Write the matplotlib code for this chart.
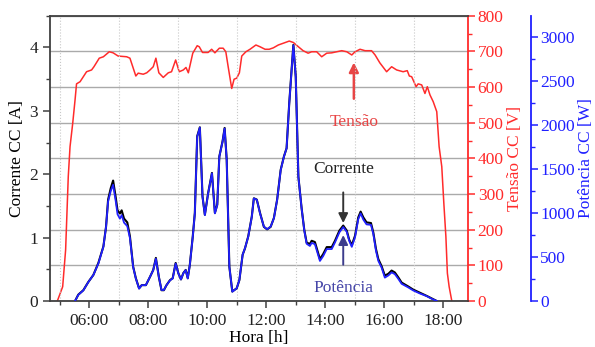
import matplotlib
matplotlib.use('Agg')
import matplotlib.pyplot as plt
from matplotlib.ticker import MultipleLocator, FuncFormatter

# Horário das leituras de corrente e potência (h)
hora_iv = [5.52, 5.63, 5.80, 5.97, 6.14, 6.31, 6.48, 6.57, 6.64, 6.73,
           6.81, 6.90, 6.96, 7.04, 7.10, 7.18, 7.29, 7.38, 7.49, 7.58,
           7.69, 7.78, 7.92, 8.06, 8.17, 8.26, 8.36, 8.45, 8.53, 8.62,
           8.74, 8.83, 8.93, 9.02, 9.11, 9.19, 9.27, 9.34, 9.41, 9.51,
           9.58, 9.66, 9.75, 9.84, 9.92, 10.03, 10.16, 10.26, 10.34, 10.41,
           10.52, 10.59, 10.66, 10.75, 10.85, 11.00, 11.09, 11.20, 11.28, 11.39,
           11.51, 11.58, 11.68, 11.79, 11.92, 12.03, 12.15, 12.26, 12.37, 12.49,
           12.60, 12.69, 12.78, 12.86, 12.92, 13.00, 13.09, 13.20, 13.29, 13.37,
           13.48, 13.54, 13.65, 13.82, 13.93, 14.05, 14.22, 14.33, 14.48, 14.61,
           14.73, 14.81, 14.90, 15.01, 15.12, 15.20, 15.29, 15.40, 15.55, 15.63,
           15.72, 15.80, 15.91, 16.02, 16.14, 16.25, 16.36, 16.48, 16.59, 16.70,
           16.81, 16.98, 17.21, 17.44, 17.61, 17.78]

# Corrente CC (A)
corrente = [0.00, 0.10, 0.17, 0.30, 0.41, 0.60, 0.86, 1.17, 1.60, 1.78,
            1.90, 1.63, 1.43, 1.38, 1.43, 1.30, 1.24, 1.02, 0.54, 0.36,
            0.20, 0.25, 0.25, 0.38, 0.49, 0.68, 0.38, 0.17, 0.17, 0.25,
            0.33, 0.36, 0.60, 0.44, 0.34, 0.44, 0.49, 0.36, 0.57, 1.02,
            1.39, 2.60, 2.74, 1.65, 1.36, 1.70, 2.02, 1.39, 1.52, 2.28,
            2.52, 2.73, 2.23, 0.54, 0.15, 0.20, 0.33, 0.73, 0.83, 1.02,
            1.33, 1.62, 1.60, 1.39, 1.17, 1.13, 1.17, 1.31, 1.60, 2.07,
            2.28, 2.41, 3.12, 3.65, 4.04, 3.54, 1.96, 1.46, 1.12, 0.92,
            0.90, 0.95, 0.93, 0.66, 0.74, 0.85, 0.85, 0.95, 1.11, 1.19,
            1.11, 0.97, 0.88, 1.03, 1.32, 1.41, 1.32, 1.24, 1.23, 1.08,
            0.82, 0.66, 0.55, 0.40, 0.43, 0.48, 0.45, 0.37, 0.29, 0.26,
            0.23, 0.18, 0.13, 0.08, 0.04, 0.00]

# Potência CC (W)
potencia = [0, 70, 120, 215, 295, 425, 615, 840, 1130, 1250,
            1320, 1130, 985, 935, 975, 890, 850, 715, 385, 255,
            140, 180, 180, 275, 350, 480, 275, 125, 125, 180,
            235, 255, 425, 315, 245, 315, 350, 255, 410, 730,
            995, 1865, 1970, 1185, 975, 1220, 1450, 995, 1090, 1640,
            1810, 1960, 1600, 390, 105, 145, 240, 525, 600, 730,
            955, 1165, 1150, 995, 845, 815, 845, 940, 1150, 1485,
            1640, 1735, 2245, 2620, 2905, 2545, 1410, 1050, 800, 650,
            625, 660, 645, 455, 510, 590, 590, 665, 780, 840,
            785, 685, 615, 725, 930, 995, 925, 870, 865, 760,
            570, 455, 380, 265, 290, 325, 305, 250, 195, 175,
            155, 120, 85, 55, 25, 0]

# Tensão CC (V)
hora_v = [4.92, 5.10, 5.20, 5.29, 5.35, 5.44, 5.52, 5.57, 5.69, 5.91,
          6.08, 6.16, 6.34, 6.48, 6.68, 6.81, 6.98, 7.27, 7.38, 7.58,
          7.66, 7.83, 7.95, 8.06, 8.17, 8.26, 8.36, 8.51, 8.68, 8.79,
          8.93, 9.05, 9.19, 9.28, 9.36, 9.51, 9.66, 9.73, 9.84, 10.03,
          10.15, 10.26, 10.41, 10.54, 10.63, 10.71, 10.83, 10.91, 11.00, 11.09,
          11.17, 11.31, 11.45, 11.65, 11.79, 11.96, 12.10, 12.24, 12.41, 12.58,
          12.78, 12.92, 13.09, 13.25, 13.42, 13.54, 13.71, 13.88, 14.05, 14.22,
          14.39, 14.56, 14.73, 14.90, 15.01, 15.18, 15.35, 15.57, 15.69, 15.85,
          16.08, 16.25, 16.42, 16.64, 16.78, 16.85, 16.93, 17.08, 17.15, 17.27,
          17.38, 17.46, 17.55, 17.66, 17.78, 17.86, 17.95, 18.02, 18.09, 18.14,
          18.20, 18.29]
tensao = [0, 40, 143, 349, 433, 498, 564, 609, 615, 643,
          648, 657, 681, 685, 699, 696, 687, 685, 681, 631,
          639, 636, 640, 648, 657, 681, 640, 627, 640, 643,
          676, 643, 648, 655, 640, 695, 716, 713, 697, 697,
          706, 696, 709, 709, 699, 657, 596, 622, 625, 640,
          687, 699, 706, 718, 713, 706, 706, 710, 718, 723,
          729, 725, 713, 702, 695, 699, 699, 685, 695, 696,
          699, 702, 699, 690, 699, 706, 702, 702, 690, 668,
          643, 657, 648, 643, 646, 631, 629, 601, 609, 606,
          582, 601, 578, 559, 531, 433, 377, 274, 180, 78,
          40, 0]

horas_rotulo = [6, 8, 10, 12, 14, 16, 18]

vermelho = '#ff2b2b'
azul = '#2020ff'

plt.rcParams['font.family'] = 'Liberation Serif'
plt.rcParams['font.size'] = 12.5

fig = plt.figure(figsize=(5.95, 3.47), dpi=100)
ax = fig.add_axes([0.084, 0.1326, 0.7026, 0.822])
ax2 = ax.twinx()
ax3 = ax.twinx()
ax3.spines['right'].set_position(('outward', 45))

# grade da tensão fica por baixo das curvas de corrente e potência
ax2.set_zorder(1)
ax.set_zorder(2)
ax3.set_zorder(3)
ax.patch.set_visible(False)

for a in (ax2, ax3):
    for s in ('left', 'top', 'bottom'):
        a.spines[s].set_visible(False)
ax.spines['right'].set_visible(False)
for s in ('left', 'top', 'bottom'):
    ax.spines[s].set_color('#404040')
    ax.spines[s].set_linewidth(1.3)
ax2.spines['right'].set_color(vermelho)
ax2.spines['right'].set_linewidth(1.3)
ax3.spines['right'].set_color(azul)
ax3.spines['right'].set_linewidth(1.3)

ax2.plot(hora_v, tensao, color=vermelho, lw=1.1)
ax.plot(hora_iv, corrente, color='black', lw=1.5)
ax3.plot(hora_iv, potencia, color=azul, lw=1.3)

ax.set_xlim(4.67, 18.84)
ax.set_ylim(0, 4.5)
ax2.set_ylim(0, 800)
ax3.set_ylim(0, 3240)

ax.set_xticks(horas_rotulo)
ax.xaxis.set_minor_locator(MultipleLocator(1))
ax.xaxis.set_major_formatter(FuncFormatter(lambda h, p: '%02d:00' % h))
ax.yaxis.set_major_locator(MultipleLocator(1))
ax.yaxis.set_minor_locator(MultipleLocator(0.5))
ax2.yaxis.set_major_locator(MultipleLocator(100))
ax2.yaxis.set_minor_locator(MultipleLocator(50))
ax3.yaxis.set_major_locator(MultipleLocator(500))
ax3.yaxis.set_minor_locator(MultipleLocator(250))

ax.tick_params(which='major', direction='out', length=5, width=1.1, color='#404040', labelcolor='#222222')
ax.tick_params(which='minor', direction='out', length=3, width=1.0, color='#404040')
ax.tick_params(axis='x', which='minor', length=3)
ax2.tick_params(which='major', direction='out', length=5, width=1.1, color=vermelho, labelcolor=vermelho, pad=2)
ax2.tick_params(which='minor', direction='out', length=3, width=1.0, color=vermelho)
ax3.tick_params(which='major', direction='out', length=5, width=1.1, color=azul, labelcolor=azul, pad=2)
ax3.tick_params(which='minor', direction='out', length=3, width=1.0, color=azul)

ax.xaxis.grid(True, which='minor', ls=':', color='#c8c8c8', lw=0.8)
ax2.yaxis.grid(True, which='major', color='#aaaaaa', lw=1.0)

ax.set_xlabel('Hora [h]', labelpad=1)
ax.set_ylabel('Corrente CC [A]', labelpad=3)
ax2.set_ylabel('Tensão CC [V]', color=vermelho, labelpad=2)
ax3.set_ylabel('Potência CC [W]', color=azul, labelpad=2)

ax2.annotate('Tensão', xy=(14.97, 669), xytext=(14.97, 502), ha='center', va='center',
             color='#e84545', fontsize=12.5,
             arrowprops=dict(arrowstyle='-|>', color='#e84545', lw=1.8, mutation_scale=14,
                             shrinkA=9, shrinkB=0))
ax.annotate('Corrente', xy=(14.61, 1.23), xytext=(14.61, 2.08), ha='center', va='center',
            color='#222222', fontsize=12.5,
            arrowprops=dict(arrowstyle='-|>', color='#333333', lw=1.4, mutation_scale=14,
                            shrinkA=9, shrinkB=0))
ax.annotate('Potência', xy=(14.61, 1.04), xytext=(14.61, 0.205), ha='center', va='center',
            color='#4646a8', fontsize=12.5,
            arrowprops=dict(arrowstyle='-|>', color='#3c3c8c', lw=1.4, mutation_scale=14,
                            shrinkA=9, shrinkB=0))

fig.savefig('out.png', dpi=100)
